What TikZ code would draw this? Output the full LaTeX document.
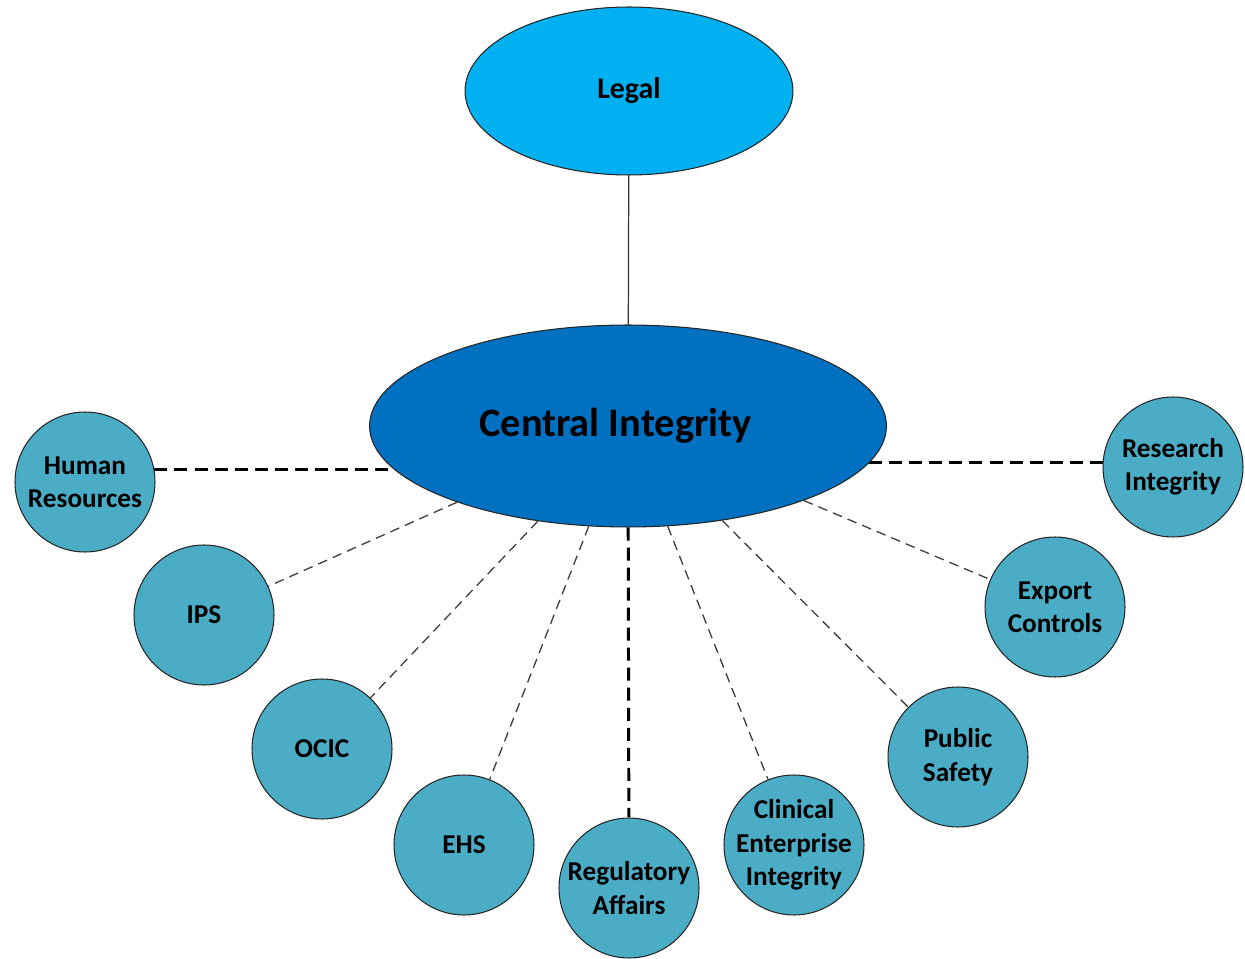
\documentclass[tikz,border=0pt]{standalone}
\usepackage{fontspec}
\setmainfont{Carlito}
\usetikzlibrary{shapes,backgrounds,calc}
\definecolor{legalblue}{HTML}{00B0F0}
\definecolor{hubblue}{HTML}{0070C0}
\definecolor{unitteal}{HTML}{4BACC6}
\def\unitsize{2.8}
\tikzset{
  office/.style n args={3}{
    ellipse,
    draw=black!85,
    line width=0.6pt,
    fill=#1,
    inner sep=0pt,
    minimum width=#2 cm,
    minimum height=#3 cm,
    font=\bfseries
  },
  legalnode/.style={office={legalblue}{6.56}{3.36}, font=\fontsize{17}{20}\selectfont\bfseries},
  hubnode/.style={office={hubblue}{10.34}{4.04}, font=\fontsize{23}{27}\selectfont\bfseries},
  unit/.style={
    circle,
    draw=black!85,
    line width=0.6pt,
    fill=unitteal,
    inner sep=0pt,
    minimum size=\unitsize cm,
    align=center,
    font=\fontsize{15.5}{19}\selectfont\bfseries
  }
}
\tikzset{
  solidlink/.style={line width=0.7pt, black!80},
  strongdash/.style={line width=1.7pt, black, dash pattern=on 7.4pt off 4pt},
  weakdash/.style={line width=0.75pt, black!75, dash pattern=on 5.5pt off 3.5pt}
}

\begin{document}
\begin{tikzpicture}[x=0.02cm, y=-0.02cm]
    \useasboundingbox (0,0) rectangle (1245,959);

    %% Top and hub
    \node[legalnode] (legal) at (629,91) {Legal};
    \node[hubnode] (ci) at (628,426) {Central Integrity\hspace*{0.5cm}};

    %% Units
    % left side
    \node[unit] (hr) at (85,482) {Human\\Resources};
    \node[unit] (ips) at (204,615) {IPS};
    \node[unit] (ocic) at (322,749) {OCIC};
    \node[unit] (ehs) at (464,845) {EHS};
    % bottom
    \node[unit] (ra) at (629,888) {Regulatory\\Affairs};
    % right side
    \node[unit, inner sep=-12pt] (cei) at (794,845) {Clinical\\Enterprise\\Integrity};
    \node[unit] (ps) at (958,757) {Public\\Safety};
    \node[unit] (ec) at (1055,607) {Export\\Controls};
    \node[unit] (ri) at (1173,467) {Research\\Integrity};

    %% Edges
    \begin{scope}[on background layer]
    \draw[solidlink] (ci) -- (legal);

    % Horizontal and vertical ties
    \draw[strongdash] (hr.10) -- (hr.10 -| ci);
    \draw[strongdash] (ri.176) -- (ri.176 -| ci);
    \draw[strongdash] (ci) -- (ra);

    % Spokes
    \foreach \u in {ips, ocic, ehs, cei, ps, ec}
        \draw[weakdash] (ci) -- (\u);
    \end{scope}

  \end{tikzpicture}
\end{document}
